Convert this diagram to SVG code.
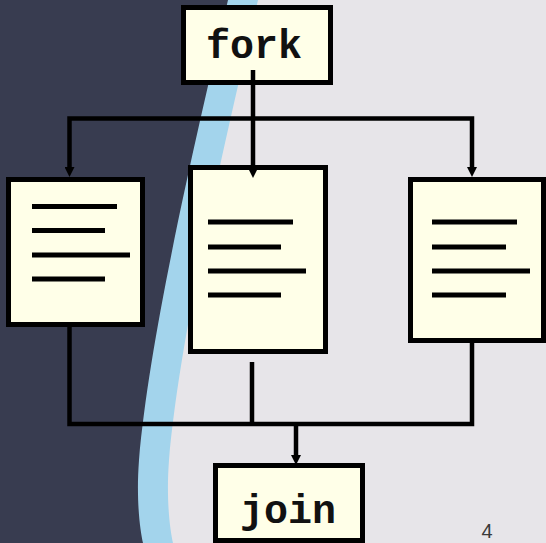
<svg xmlns="http://www.w3.org/2000/svg" width="546" height="543" viewBox="0 0 546 543">
  <style>
    .box { fill: #ffffe8; stroke: #000; stroke-width: 5; }
    .rule { stroke: #000; stroke-width: 5; stroke-linecap: butt; }
    .wire { fill: none; stroke: #000; stroke-width: 4.5; stroke-linejoin: miter; }
    .label { font-family: "Liberation Mono", "Courier New", monospace; font-weight: bold; font-size: 40px; fill: #111; text-anchor: middle; }
    .page { font-family: "Liberation Sans", Arial, sans-serif; font-size: 20px; fill: #3a3a3a; text-anchor: middle; }
  </style>
  <defs>
    <marker id="arrow" viewBox="0 0 10 10" refX="3" refY="5" markerWidth="10" markerHeight="10" markerUnits="userSpaceOnUse" orient="auto">
      <path d="M0,0 L10,5 L0,10 z" fill="#000"/>
    </marker>
  </defs>

  <!-- backdrop: light slide with dark panel and blue swoosh on the left -->
  <rect width="546" height="543" fill="#e7e5e9"/>
  <path d="M0,0 H258 C230,120 180,330 169,460 C166,500 170,530 173,543 H0 Z" fill="#a3d4ec"/>
  <path d="M0,0 H228 C200,120 150,330 139,460 C136,500 140,530 143,543 H0 Z" fill="#383c50"/>

  <!-- nodes -->
  <g id="fork">
    <rect class="box" x="183.5" y="7.5" width="147" height="75"/>
    <text class="label" x="254" y="58">fork</text>
  </g>
  <g id="task-left">
    <rect class="box" x="8.5" y="179.5" width="134" height="145"/>
    <line class="rule" x1="32" y1="206.5" x2="117" y2="206.5"/>
    <line class="rule" x1="32" y1="230.5" x2="105" y2="230.5"/>
    <line class="rule" x1="32" y1="255" x2="130" y2="255"/>
    <line class="rule" x1="32" y1="279" x2="105" y2="279"/>
  </g>
  <g id="task-middle">
    <rect class="box" x="190.5" y="167.5" width="135" height="184"/>
    <line class="rule" x1="208" y1="222" x2="293" y2="222"/>
    <line class="rule" x1="208" y1="247" x2="281" y2="247"/>
    <line class="rule" x1="208" y1="271" x2="306" y2="271"/>
    <line class="rule" x1="208" y1="295" x2="281" y2="295"/>
  </g>
  <g id="task-right">
    <rect class="box" x="410.5" y="179.5" width="133" height="161"/>
    <line class="rule" x1="432" y1="222" x2="517" y2="222"/>
    <line class="rule" x1="432" y1="247" x2="506" y2="247"/>
    <line class="rule" x1="432" y1="271" x2="530" y2="271"/>
    <line class="rule" x1="432" y1="295" x2="506" y2="295"/>
  </g>
  <g id="join">
    <rect class="box" x="215.5" y="465.5" width="147" height="75"/>
    <text class="label" x="288" y="523">join</text>
  </g>

  <!-- connectors -->
  <g id="connectors">
    <path class="wire" d="M253,70 V171" marker-end="url(#arrow)"/>
    <path class="wire" d="M253,118.5 H69.5 V170" marker-end="url(#arrow)"/>
    <path class="wire" d="M253,118.5 H472 V170" marker-end="url(#arrow)"/>
    <path class="wire" d="M69.5,327 V424 H472 V343"/>
    <path class="wire" d="M252,362 V424"/>
    <path class="wire" d="M296,424 V458" marker-end="url(#arrow)"/>
  </g>

  <text class="page" x="487" y="538">4</text>
</svg>
